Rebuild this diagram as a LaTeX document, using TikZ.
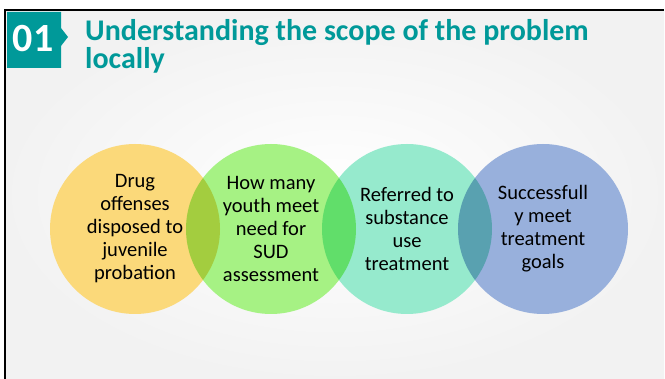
\documentclass[tikz,border=0pt]{standalone}
\usepackage{fontspec}
\setmainfont{Carlito}
\usepackage{tikz}
\usetikzlibrary{positioning}

\definecolor{tagteal}{RGB}{0,153,153}
\definecolor{bubyellow}{RGB}{251,217,122}
\definecolor{bubgreen}{RGB}{166,242,132}
\definecolor{bubmint}{RGB}{150,234,205}
\definecolor{bubblue}{RGB}{152,176,220}

\begin{document}
\begin{tikzpicture}[x = 1pt, y = -1pt, node distance = 136pt,
	bubble/.style = {circle, minimum size = 170pt, inner sep = 0pt, align = center,
		blend mode = multiply, font = \fontsize{20.5}{23}\selectfont}]

\useasboundingbox (0,0) rectangle (665,379);
\shade[inner color = white, outer color = black!5] (5,10) rectangle (664,379);
\draw[line width = 2pt] (5,379) -- (5,10) -- (664,10);

\fill[tagteal] (7,12) -- (61,12) -- (61,28) -- (68,37) -- (61,46) -- (61,68) -- (7,68) -- cycle;
\node[text = white, font = \bfseries\fontsize{40}{40}\selectfont, inner sep = 0pt]	(num) at (33,39)	{01};
\node[anchor = north west, inner sep = 0pt, align = left, text = tagteal,
	font = \bfseries\fontsize{30}{28.5}\selectfont]	(title) at (85,19)	{Understanding the scope of the problem\\locally};

\begin{scope}[transparency group]
\node[bubble, fill = bubyellow]					(drug) at (135,229)			{Drug\\offenses\\disposed to\\juvenile\\probation};
\node[bubble, fill = bubgreen]					(youth) [right of=drug]		{How many\\youth meet\\need for\\SUD\\assessment};
\node[bubble, fill = bubmint]					(referred) [right of=youth]	{Referred to\\substance\\use\\treatment};
\node[bubble, fill = bubblue]					(goals) [right of=referred]	{Successfull\\y meet\\treatment\\goals};
\end{scope}

\end{tikzpicture}
\end{document}
